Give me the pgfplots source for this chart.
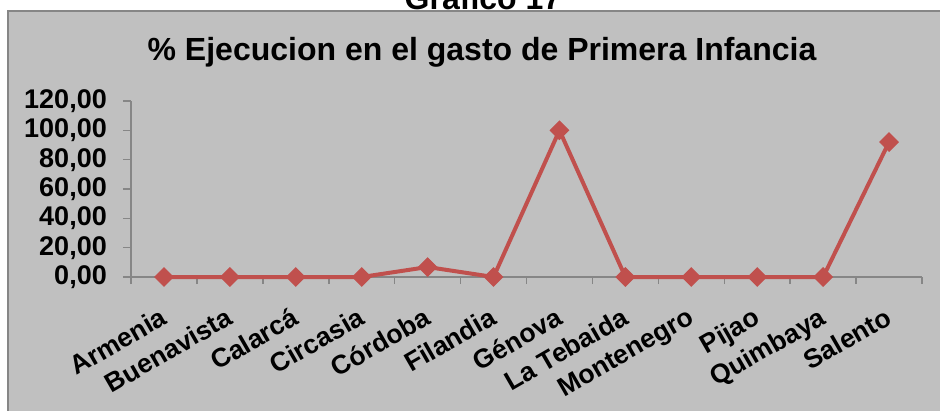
\documentclass[border=0pt]{standalone}
\usepackage{fontspec}
\setmainfont{Liberation Sans}
\usepackage{pgfplots}
\pgfplotsset{compat=1.18}
\definecolor{panel}{HTML}{C0C0C0}
\definecolor{axgray}{HTML}{868686}
\definecolor{serie}{HTML}{C0504D}
\begin{document}
\begin{tikzpicture}[x=1pt,y=1pt]
\path[use as bounding box] (0,0) rectangle (940,410);
\clip (0,0) rectangle (940,410);
\fill[white] (0,0) rectangle (940,410);
\draw[axgray, line width=1.5pt, fill=panel] (8,399) rectangle (960,-20);
\node[anchor=base, font=\bfseries\fontsize{32}{34}\selectfont, inner sep=0pt] at (483,400) {Grafico 17};
\node[anchor=base, font=\bfseries\fontsize{32}{34}\selectfont, inner sep=0pt] at (482,349) {\% Ejecucion en el gasto de Primera Infancia};
\begin{axis}[
  at={(131pt,133pt)}, anchor=south west,
  scale only axis, width=791pt, height=176pt,
  xmin=0.5, xmax=12.5, ymin=0, ymax=120,
  axis lines*=left,
  axis line style={axgray, line width=1.5pt},
  xtick={1,...,12},
  xticklabels={Armenia,Buenavista,Calarcá,Circasia,Córdoba,Filandia,Génova,La Tebaida,Montenegro,Pijao,Quimbaya,Salento},
  major x tick style={draw=none},
  minor xtick={0.5,1.5,...,12.5},
  minor x tick style={axgray, line width=1.5pt},
  minor tick length=7pt,
  ytick={0,20,...,120},
  y tick style={axgray, line width=1.5pt},
  major tick length=8pt,
  tick align=outside,
  /pgf/number format/assume math mode=true,
  yticklabel={\pgfmathprintnumber[fixed,fixed zerofill,precision=2,use comma]{\tick}},
  yticklabel style={font=\bfseries\fontsize{27}{29}\selectfont, anchor=east, inner sep=0pt, xshift=-16pt},
  xticklabel style={font=\bfseries\fontsize{26.5}{28}\selectfont, inner sep=0pt, yshift=-21pt, xshift=-5pt, rotate=30, anchor=north east},
  clip=false,
]
\addplot[serie, line width=4pt, mark=square*, mark size=6.5pt, mark options={rotate=45, line width=1pt, fill=serie}] coordinates {
(1,0) (2,0) (3,0) (4,0) (5,6.8) (6,0) (7,100) (8,0) (9,0) (10,0) (11,0) (12,92)
};
\end{axis}
\end{tikzpicture}
\end{document}
